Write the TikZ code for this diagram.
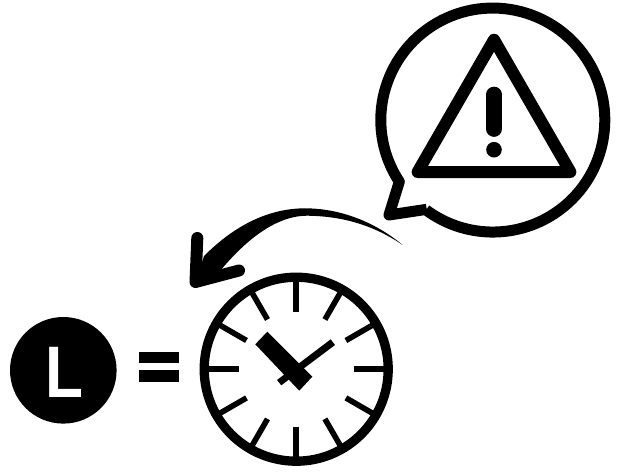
\documentclass[tikz,border=0pt]{standalone}
\usepackage{fontspec}
\setmainfont{Liberation Sans}
\begin{document}
\begin{tikzpicture}[x=1pt,y=-1pt,
  ring/.style={draw=black,fill=none},
  tick/.style={draw=black,line width=5.6pt}]
\path[use as bounding box,fill=white] (0,0) rectangle (621,472);
% speech bubble: tail, then the circle
\draw[ring,line width=11pt,line join=round]
  (426.7,209.3) -- (389,215) -- (399.3,181.7)
  arc[start angle=146.6,end angle=486.6,radius=112];
% warning triangle
\draw[ring,line width=12pt,line join=round] (494,39.7) -- (570.4,172) -- (417.6,172) -- cycle;
\draw[black,line width=15.7pt,line cap=round] (494,94.5) -- (494,129);
\fill[black] (494,149.7) circle[radius=7.8];
% curved arrow
\fill[black] (402.7,245) .. controls (375,222) and (340,208) .. (303.3,208.3)
  .. controls (265,209) and (232,228) .. (204,256)
  -- (195.5,282) -- (220,271) .. controls (245,241) and (275,216) .. (306.7,215.7)
  .. controls (340,216) and (372,224) .. (402.7,245) -- cycle;
\draw[black,line width=12pt,line cap=round,line join=round]
  (197.3,238) -- (195.5,282) -- (239,270.5);
% clock
\draw[ring,line width=9.3pt] (296.2,369.2) circle[radius=92];
\foreach \a in {0,30,...,330}
  \draw[tick] (296.2,369.2) ++(\a:57.4) -- ++(\a:31);
\fill[black] (267.3,331.7) -- (255.3,344.3) -- (299.3,390.7) -- (312.3,376.7) -- cycle;
\fill[black] (330.7,339.3) -- (335,345) -- (281.3,385.3) -- (277,380) -- cycle;
% L badge
\node[circle,fill=black,minimum size=106.6pt,inner sep=0pt] (badge) at (63.3,370.3) {};
\node[text=white,font=\fontsize{73}{73}\selectfont\bfseries,inner sep=0pt,anchor=center,xscale=.85] (letter) at (64.5,372.8) {L};
% equals sign
\fill[black] (139,352.3) rectangle (179,363.3);
\fill[black] (139,370) rectangle (179,381.7);
\end{tikzpicture}
\end{document}
